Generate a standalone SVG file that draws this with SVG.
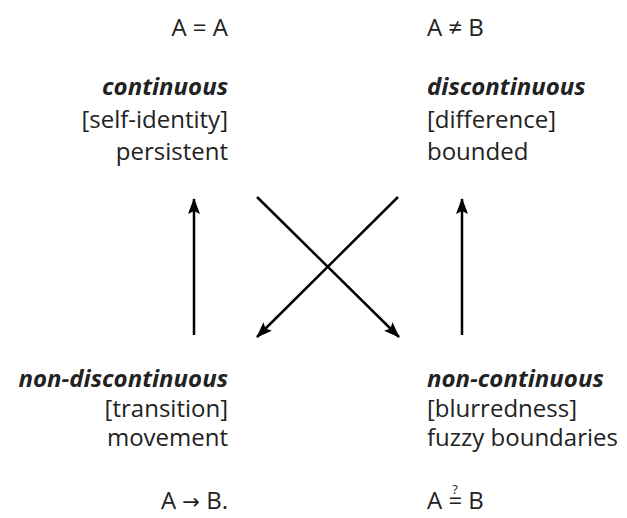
<svg xmlns="http://www.w3.org/2000/svg" width="627" height="518" viewBox="0 0 627 518">
  <defs>
    <style>
      text { font-family: "Open Sans", "Noto Sans", "Liberation Sans", sans-serif; font-size: 24px; fill: #222; }
      .hd { font-weight: bold; font-style: italic; }
      .l { text-anchor: end; }
      .q { font-size: 13px; text-anchor: middle; }
      .sym { font-family: "DejaVu Sans", sans-serif; font-size: 21px; }
      .arrow { stroke: #000; stroke-width: 2.5; fill: none; marker-end: url(#head); }
    </style>
    <marker id="head" viewBox="0 0 16 12" refX="15" refY="6" markerWidth="16" markerHeight="12" markerUnits="userSpaceOnUse" orient="auto">
      <path d="M0,0 L16,6 L0,12 L3,6 Z" fill="#000"/>
    </marker>
  </defs>
  <rect width="627" height="518" fill="#fff"/>

  <g id="continuous">
    <text class="l" x="228" y="36">A = A</text>
    <text class="l hd" x="228" y="95">continuous</text>
    <text class="l" x="228" y="128">[self-identity]</text>
    <text class="l" x="228" y="160">persistent</text>
  </g>

  <g id="discontinuous">
    <text x="427" y="36">A ≠ B</text>
    <text class="hd" x="427" y="95">discontinuous</text>
    <text x="427" y="128">[difference]</text>
    <text x="427" y="160">bounded</text>
  </g>

  <g id="non-discontinuous">
    <text class="l hd" x="228" y="387">non-discontinuous</text>
    <text class="l" x="228" y="417">[transition]</text>
    <text class="l" x="228" y="446">movement</text>
    <text class="l" x="228" y="509">A <tspan class="sym">→</tspan> B.</text>
  </g>

  <g id="non-continuous">
    <text class="hd" x="427" y="387">non-continuous</text>
    <text x="427" y="417">[blurredness]</text>
    <text x="427" y="446">fuzzy boundaries</text>
    <text x="427" y="509">A = B</text>
    <text class="q" x="455" y="494">?</text>
  </g>

  <g id="connectors">
    <line class="arrow" x1="194" y1="335" x2="194" y2="199"/>
    <line class="arrow" x1="462" y1="335" x2="462" y2="199"/>
    <line class="arrow" x1="257" y1="197" x2="399" y2="337"/>
    <line class="arrow" x1="398" y1="197" x2="257" y2="337"/>
  </g>
</svg>
